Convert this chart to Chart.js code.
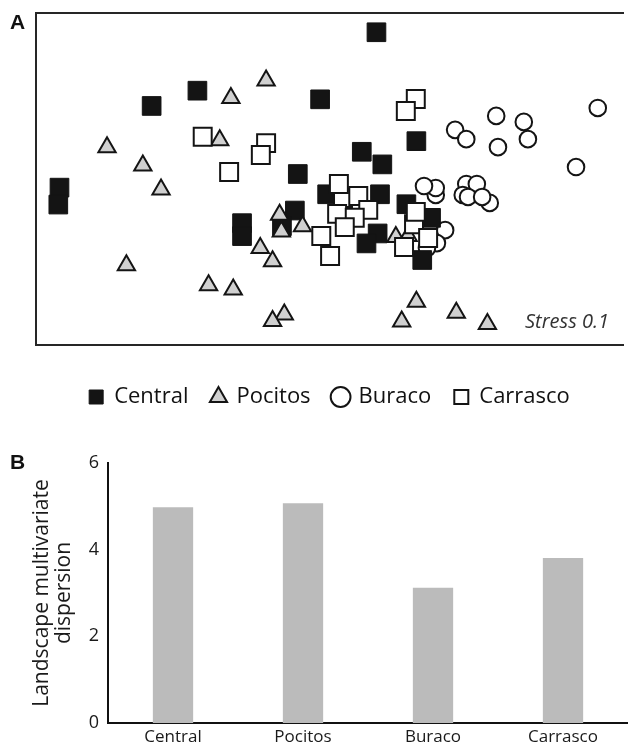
<!DOCTYPE html>
<html><head><meta charset="utf-8">
<script src="https://cdn.jsdelivr.net/npm/chart.js@4/dist/chart.umd.min.js"></script>
<style>
html,body{margin:0;padding:0;background:#fff;width:628px;height:747px;overflow:hidden}
#wa{position:absolute;left:0;top:0;width:628px;height:430px}
#wb{position:absolute;left:0;top:430px;width:628px;height:317px}
</style></head><body>
<div id="wa"><canvas id="ca"></canvas></div>
<div id="wb"><canvas id="cb"></canvas></div>
<script>
// ---- Data ----
const groups = ['Central', 'Pocitos', 'Buraco', 'Carrasco'];

// Panel A: NMDS ordination (arbitrary axis units 0-100)
const centralX = [58.0, 27.5, 19.7, 48.4, 64.8, 55.5, 59.0, 44.6, 4.0, 3.8, 35.1, 35.1, 44.1, 49.6, 58.6, 63.1, 67.3, 58.2, 56.3, 65.8, 41.9];
const centralY = [94.2, 76.6, 72.0, 74.0, 61.4, 58.2, 54.4, 51.5, 47.4, 42.3, 36.7, 32.8, 40.5, 45.4, 45.4, 42.4, 38.3, 33.6, 30.6, 25.6, 35.8];

const pocitosX = [39.2, 33.2, 12.1, 31.3, 18.2, 21.3, 41.5, 41.8, 45.4, 38.2, 40.3, 15.4, 29.4, 33.6, 42.3, 40.3, 64.8, 62.3, 71.6, 76.9, 61.3, 63.4];
const pocitosY = [79.7, 74.4, 59.6, 61.7, 54.1, 46.8, 39.2, 34.2, 35.8, 29.2, 25.2, 24.0, 18.0, 16.7, 9.2, 7.2, 13.0, 7.1, 9.7, 6.3, 32.5, 32.8];

const buracoX = [71.4, 73.3, 78.4, 78.7, 83.1, 83.8, 95.7, 92.0, 68.1, 68.1, 66.1, 73.3, 75.1, 72.7, 73.6, 77.3, 76.0, 69.7, 68.3, 66.6];
const buracoY = [64.8, 62.0, 69.0, 59.6, 67.2, 62.0, 71.4, 53.6, 45.2, 47.3, 47.9, 48.5, 48.5, 45.2, 44.6, 42.8, 44.6, 34.6, 30.7, 29.2];

const carrascoX = [52.3, 64.7, 63.0, 28.4, 39.2, 38.3, 32.9, 54.9, 51.6, 56.6, 51.3, 54.3, 52.6, 48.6, 50.1, 64.4, 64.7, 66.8, 62.7];
const carrascoY = [44.3, 74.1, 70.5, 62.7, 60.8, 57.2, 52.1, 44.9, 48.5, 40.7, 39.5, 38.3, 35.5, 32.8, 26.8, 36.4, 40.1, 32.2, 29.5];

const stressLabel = 'Stress 0.1';

// Panel B: landscape multivariate dispersion
const dispersion = [4.98, 5.07, 3.12, 3.81];
const dispersionTicks = [0, 2, 4, 6];
const yTitle = ['Landscape multivariate', 'dispersion'];

// ---- helpers ----
const pts = (xs, ys) => xs.map((x, i) => ({x: x, y: ys[i]}));
Chart.defaults.font.family = "'Open Sans', sans-serif";
Chart.defaults.animation = false;
Chart.defaults.events = [];

const panelText = {
  id: 'panelText',
  afterDraw(chart, args, opts) {
    const ctx = chart.ctx, ca = chart.chartArea;
    ctx.save();
    (opts.items || []).forEach(t => {
      ctx.font = t.font;
      ctx.fillStyle = t.color || '#111';
      ctx.textAlign = t.align || 'left';
      ctx.textBaseline = 'middle';
      const x = t.fromRight ? ca.right - t.x : t.x;
      const y = t.fromBottom ? ca.bottom - t.y : t.y;
      ctx.fillText(t.text, x, y);
    });
    ctx.restore();
  }
};

const edge = {color: '#262626', width: 2};
const hiddenLinear = (pos, h) => ({
  type: 'linear', position: pos, min: 0, max: 100,
  ticks: {display: false}, grid: {display: false, drawTicks: false},
  border: {display: true, color: edge.color, width: edge.width},
  afterFit: s => { if (h !== undefined) s.height = h; }
});

new Chart(document.getElementById('ca'), {
  type: 'scatter',
  data: {
    datasets: [
      {label: groups[0], data: pts(centralX, centralY), pointStyle: 'rect', pointRadius: 13.2, pointHoverRadius: 13.2,
       backgroundColor: '#141414', borderColor: '#141414', borderWidth: 1, order: 2},
      {label: groups[1], data: pts(pocitosX, pocitosY), pointStyle: 'triangle', pointRadius: 10, pointHoverRadius: 10,
       backgroundColor: '#d0d0d0', borderColor: '#141414', borderWidth: 2, order: 1},
      {label: groups[2], data: pts(buracoX, buracoY), pointStyle: 'circle', pointRadius: 8.3, pointHoverRadius: 8.3,
       backgroundColor: '#ffffff', borderColor: '#141414', borderWidth: 2, order: 3},
      {label: groups[3], data: pts(carrascoX, carrascoY), pointStyle: 'rect', pointRadius: 12.7, pointHoverRadius: 12.7,
       backgroundColor: '#ffffff', borderColor: '#141414', borderWidth: 2, order: 0}
    ]
  },
  options: {
    responsive: true, maintainAspectRatio: false,
    layout: {autoPadding: false, padding: {left: 36, top: 13, right: 5, bottom: 12}},
    scales: {x: hiddenLinear('bottom', 18), y: hiddenLinear('left'), x2: hiddenLinear('top', 0)},
    plugins: {
      tooltip: {enabled: false},
      legend: {
        display: true, position: 'bottom',
        labels: {
          usePointStyle: true, boxHeight: 14, boxWidth: 14, padding: 23,
          color: '#111', font: {size: 22},
          sort: (a, b) => a.datasetIndex - b.datasetIndex
        }
      },
      panelText: {items: [
        {text: 'A', x: 10, y: 23, font: "bold 21px 'Liberation Sans'", color: '#111'},
        {text: stressLabel, x: 14, y: 23, fromRight: true, fromBottom: true, align: 'right', font: "italic 20px 'Open Sans'", color: '#333'}
      ]}
    }
  },
  plugins: [panelText]
});

new Chart(document.getElementById('cb'), {
  type: 'bar',
  data: {
    labels: groups,
    datasets: [{data: dispersion, backgroundColor: '#bbbbbb', borderWidth: 0, barPercentage: 0.31, categoryPercentage: 1}]
  },
  options: {
    responsive: true, maintainAspectRatio: false,
    layout: {autoPadding: false, padding: {left: 0, top: 33, right: 0, bottom: 0}},
    scales: {
      x: {
        grid: {display: false, drawTicks: false},
        border: {display: true, color: '#111', width: 2},
        ticks: {color: '#1a1a1a', font: {size: 17}, padding: 4},
        afterFit: s => { s.height = 24; }
      },
      y: {
        min: 0, max: 6,
        afterBuildTicks: s => { s.ticks = dispersionTicks.map(v => ({value: v})); },
        grid: {display: false, drawTicks: false},
        border: {display: true, color: '#111', width: 2},
        ticks: {color: '#1a1a1a', font: {size: 18}, padding: 9},
        title: {display: true, text: yTitle, color: '#1a1a1a', font: {size: 21, lineHeight: 1.05}, padding: {top: 31, bottom: 0}},
        afterFit: s => { s.width = 108; }
      }
    },
    plugins: {
      legend: {display: false},
      tooltip: {enabled: false},
      panelText: {items: [
        {text: 'B', x: 10, y: 33, font: "bold 21px 'Liberation Sans'", color: '#111'}
      ]}
    }
  },
  plugins: [panelText]
});
</script>
</body></html>
